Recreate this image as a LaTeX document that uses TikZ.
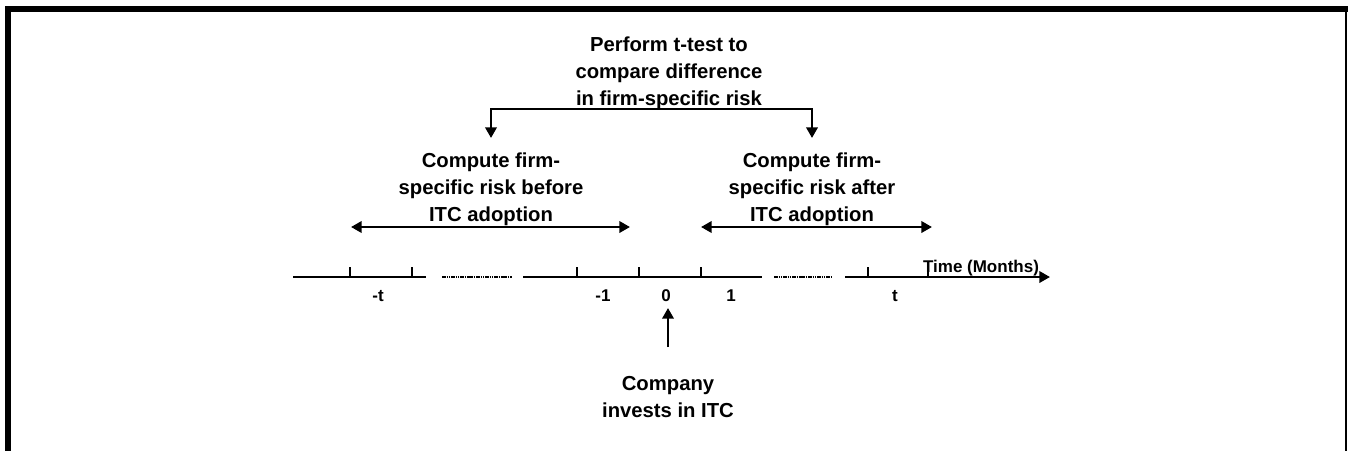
\documentclass[tikz,border=0pt]{standalone}
\usepackage{fontspec}
\setmainfont{Liberation Sans}
\usetikzlibrary{arrows.meta}
\tikzset{
  lbl/.style={font=\fontsize{15.2}{20.25}\selectfont\bfseries, align=center, inner sep=0pt, anchor=base},
  ticklbl/.style={font=\fontsize{12.75}{15}\selectfont\bfseries, inner sep=0pt, anchor=base},
  axisline/.style={line width=1.1pt},
  tickmark/.style={line width=1.1pt},
  gapline/.style={line width=1.6pt, dash pattern=on 1.2pt off 0.5pt},
  arr/.style={line width=1.9pt, -{Triangle[length=8pt,width=8.5pt]}},
  darr/.style={line width=1.9pt, line join=miter, {Triangle[length=8pt,width=8.5pt]}-{Triangle[length=8pt,width=8.5pt]}},
}
\begin{document}
\begin{tikzpicture}[x=0.75pt,y=-0.75pt]
\useasboundingbox (0,0) rectangle (1348,451);
% frame
\fill (5,6) rectangle (1348,12);
\fill (5,6) rectangle (11,451);
\fill (1345,6) rectangle (1347,451);

% text blocks (anchored at the baseline of their last line)
\node[lbl] (ttest) at (669,105) {Perform t-test to\\compare difference\\in firm-specific risk};
\node[lbl] (before) at (491,221) {Compute firm-\\specific risk before\\ITC adoption};
\node[lbl] (after) at (812,221) {Compute firm-\\specific risk after\\ITC adoption};
\node[lbl] (company) at (668,417) {Company\\invests in ITC};

% bracket from the t-test to both windows
\coordinate (bL) at (491,109);
\coordinate (bR) at (812,109);
\coordinate (bLt) at (491,138);
\coordinate (bRt) at (812,138);
\draw[darr] (bLt) -- (bL) -- (bR) -- (bRt);

% estimation windows
\coordinate (wbL) at (351,227);
\coordinate (wbR) at (630,227);
\coordinate (waL) at (701,227);
\coordinate (waR) at (932,227);
\draw[darr] (wbL) -- (wbR);
\draw[darr] (waL) -- (waR);

% time axis
\coordinate (a1) at (293,277); \coordinate (a2) at (426,277);
\coordinate (g1) at (442,277); \coordinate (g2) at (512,277);
\coordinate (a3) at (523,277); \coordinate (a4) at (762,277);
\coordinate (g3) at (774,277); \coordinate (g4) at (832,277);
\coordinate (a5) at (845,277); \coordinate (a6) at (1050,277);
\draw[axisline] (a1) -- (a2);
\draw[gapline] (g1) -- (g2);
\draw[axisline] (a3) -- (a4);
\draw[gapline] (g3) -- (g4);
\draw[line width=1.9pt, -{Triangle[length=8pt,width=8.5pt]}] (a5) -- (a6);
\foreach \x in {350,412,577,639,701,868,928}
  \draw[tickmark] (\x,277) -- (\x,267);

\node[ticklbl] (time) at (981,272) {Time (Months)};
\node[ticklbl] (lmt) at (378,301) {-t};
\node[ticklbl] (lm1) at (603,301) {-1};
\node[ticklbl] (l0) at (666,301) {0};
\node[ticklbl] (l1) at (731,301) {1};
\node[ticklbl] (lt) at (895,301) {t};

% adoption event
\coordinate (evStem) at (668,347);
\coordinate (evTip) at (668,308);
\draw[arr] (evStem) -- (evTip);
\end{tikzpicture}
\end{document}
